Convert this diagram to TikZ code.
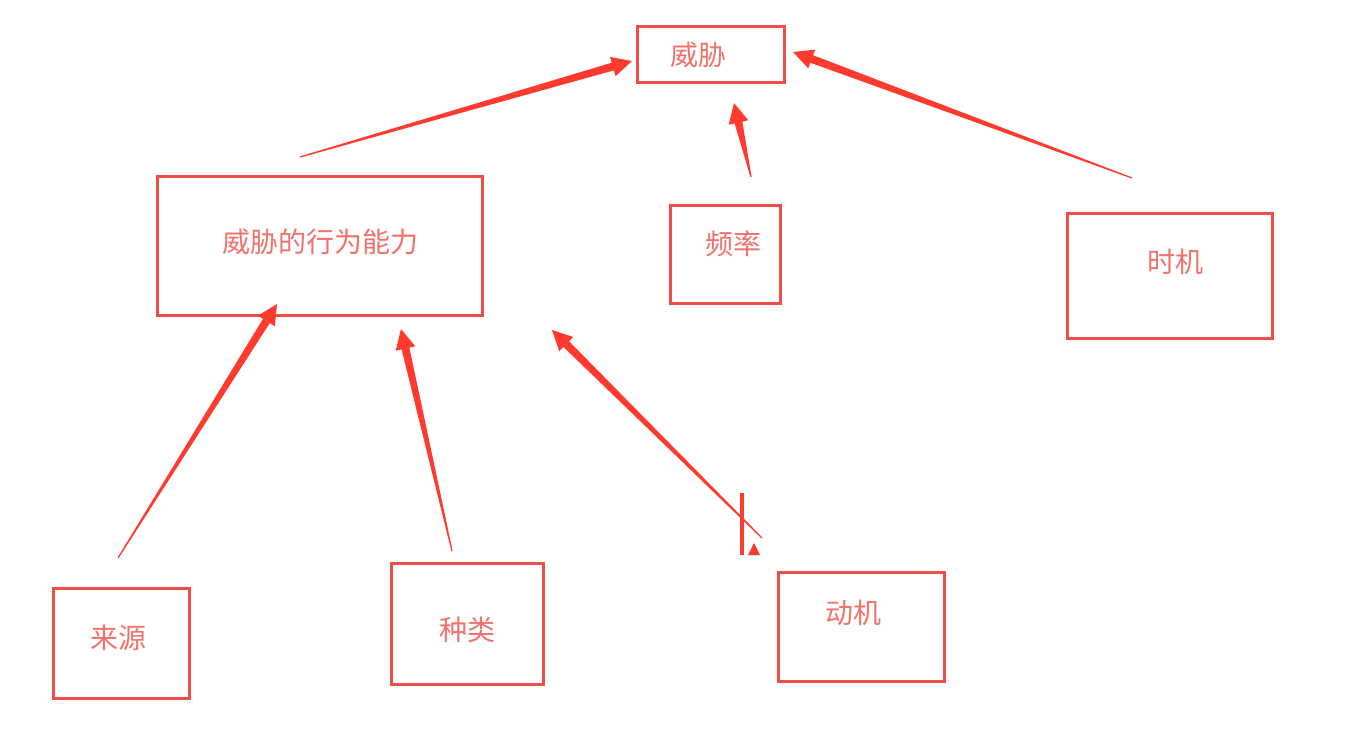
\documentclass[tikz,border=0pt]{standalone}
\usepackage{fontspec}
\newfontfamily\cjk{Noto Sans CJK SC}
\usetikzlibrary{calc}
\definecolor{boxred}{HTML}{EF4E47}
\definecolor{arrowred}{HTML}{FF3B2F}
\definecolor{textred}{HTML}{F2716B}
\tikzset{
  box/.style={draw=boxred, line width=3pt, inner sep=0pt, outer sep=0pt, rectangle},
  lbl/.style={text=textred, inner sep=0pt, font=\cjk\fontsize{28}{31}\selectfont},
}
\newcommand\taperarrow[2]{%
  \path ($(#2)!20pt!(#1)$) coordinate (H);
  \fill[arrowred] ($(#1)!0.6pt!90:(#2)$) -- ($(H)!4pt!90:(#2)$) -- ($(H)!10pt!90:(#2)$) -- (#2)
     -- ($(H)!10pt!-90:(#2)$) -- ($(H)!4pt!-90:(#2)$) -- ($(#1)!0.6pt!-90:(#2)$) -- cycle;}
\begin{document}
\begin{tikzpicture}[x=1pt,y=-1pt]
\useasboundingbox[fill=white] (0,0) rectangle (1352,750);
% boxes
\node[box, minimum width=147pt, minimum height=56pt] (threat) at (710.5,54) {};
\node[box, minimum width=325pt, minimum height=139pt] (cap) at (319.5,245.5) {};
\node[box, minimum width=110pt, minimum height=98pt] (freq) at (725,254) {};
\node[box, minimum width=205pt, minimum height=125pt] (timing) at (1169.5,275.5) {};
\node[box, minimum width=136pt, minimum height=110pt] (source) at (121,643) {};
\node[box, minimum width=152pt, minimum height=121pt] (kind) at (467,623.5) {};
\node[box, minimum width=166pt, minimum height=109pt] (motive) at (861,626.5) {};
% labels
\node[lbl] (threatT) at (698,55) {威胁};
\node[lbl] (capT) at (320,242) {威胁的行为能力};
\node[lbl] (freqT) at (733,244) {频率};
\node[lbl] (timingT) at (1175,262) {时机};
\node[lbl] (sourceT) at (118,638) {来源};
\node[lbl] (kindT) at (467,630) {种类};
\node[lbl] (motiveT) at (853,613) {动机};
% arrow end points
\coordinate (a1s) at (300,157);  \coordinate (a1e) at (632,61);
\coordinate (a2s) at (751,177);  \coordinate (a2e) at (734,103);
\coordinate (a3s) at (1132,178); \coordinate (a3e) at (793,52);
\coordinate (a4s) at (118,558);  \coordinate (a4e) at (277,304);
\coordinate (a5s) at (452,551);  \coordinate (a5e) at (401,329);
\coordinate (a6s) at (762,538);  \coordinate (a6e) at (552,330);
\taperarrow{a1s}{a1e}
\taperarrow{a2s}{a2e}
\taperarrow{a3s}{a3e}
\taperarrow{a4s}{a4e}
\taperarrow{a5s}{a5e}
\taperarrow{a6s}{a6e}
% stray mark near motive arrow
\coordinate (barT) at (742,493); \coordinate (barB) at (742,555);
\draw[arrowred, line width=3.5pt] (barT) -- (barB);
\coordinate (triL) at (748,555); \coordinate (triR) at (760,555); \coordinate (triA) at (754,543);
\fill[arrowred] (triL) -- (triA) -- (triR) -- cycle;
\end{tikzpicture}
\end{document}
